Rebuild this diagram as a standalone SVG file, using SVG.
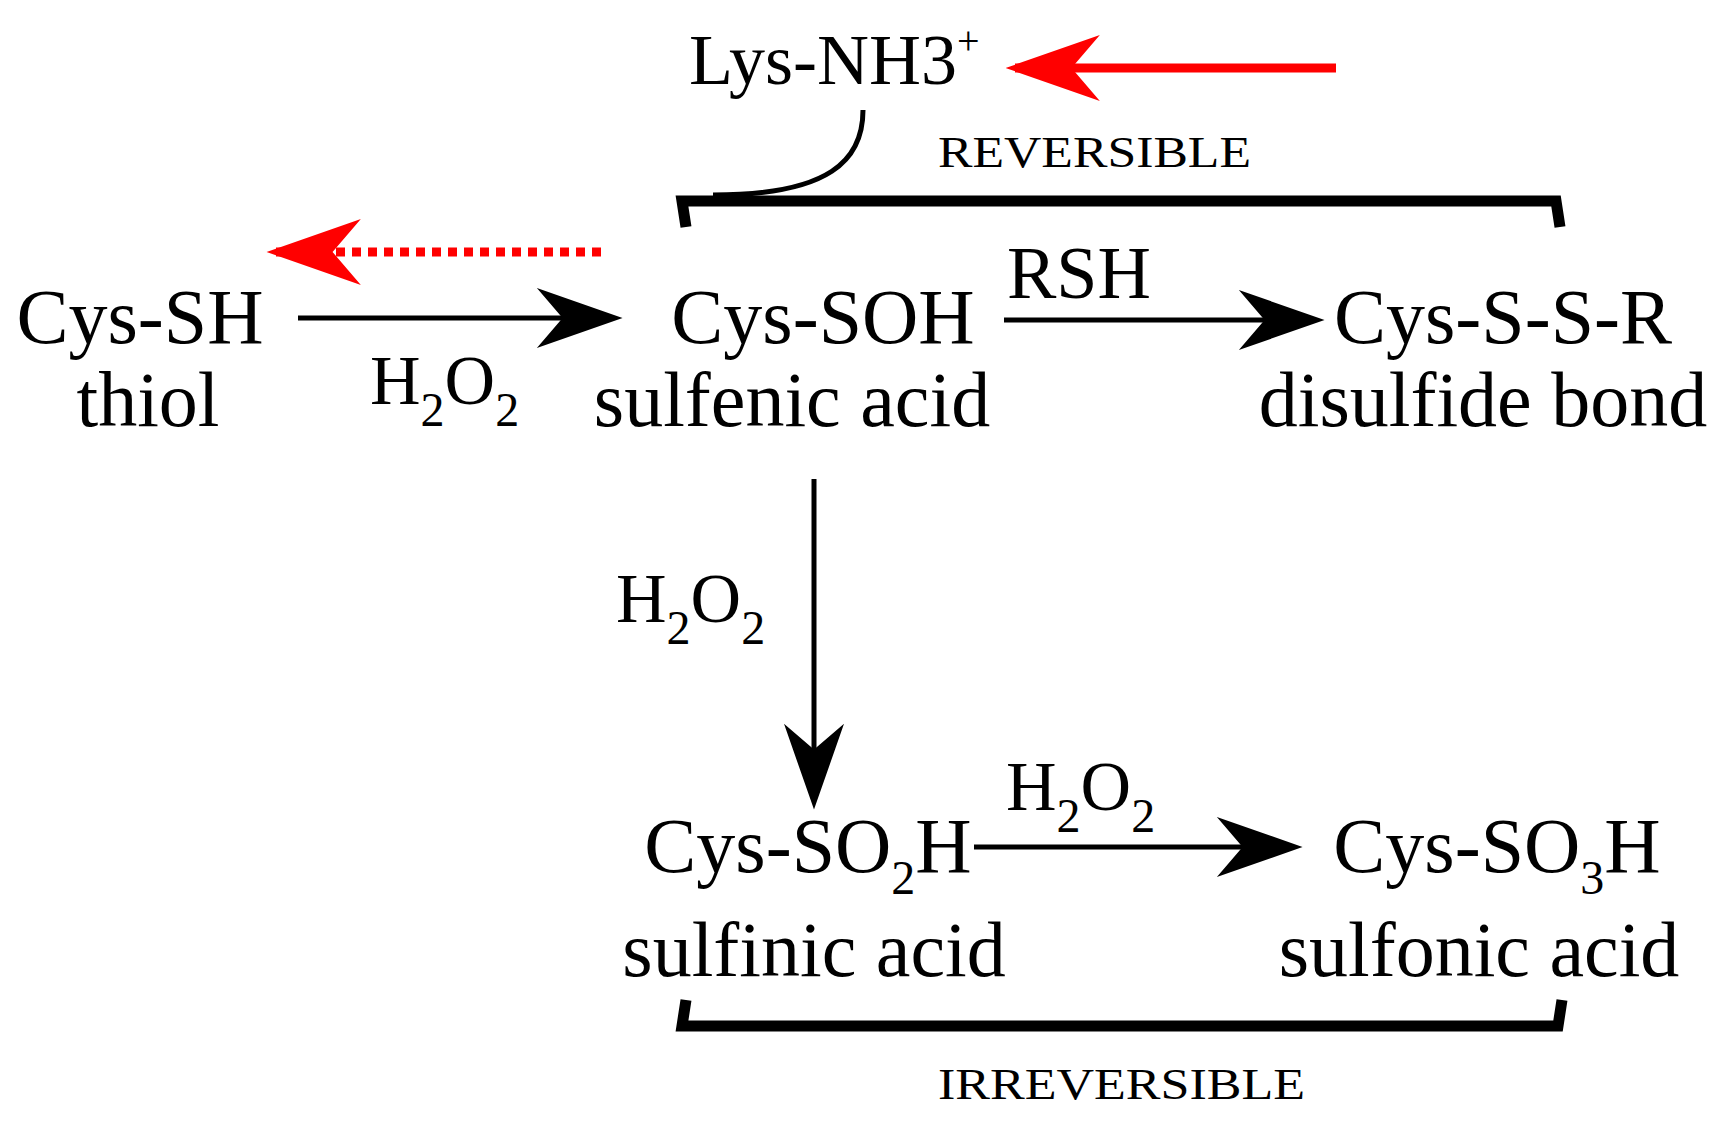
<svg xmlns="http://www.w3.org/2000/svg" width="1720" height="1129" viewBox="0 0 1720 1129">
<style>
text{font-family:"Liberation Serif","Times New Roman",serif;fill:#000}
.m{font-size:78px;text-anchor:middle}
.s{font-size:48px}
.lab{font-size:44px}
.c{stroke:#000;stroke-width:5;fill:none}
</style>
<defs>
<marker id="ahb" viewBox="0 0 20 14" refX="18" refY="7" markerWidth="88" markerHeight="60" markerUnits="userSpaceOnUse" orient="auto"><path d="M0,0 L20,7 L0,14 L6,7 Z" fill="#000"/></marker>
<marker id="ahr" viewBox="0 0 20 14" refX="18" refY="7" markerWidth="96" markerHeight="66" markerUnits="userSpaceOnUse" orient="auto"><path d="M0,0 L20,7 L0,14 L6,7 Z" fill="#f00"/></marker>
</defs>
<rect width="1720" height="1129" fill="#fff"/>
<g id="lys"><text x="689" y="84" font-size="72">Lys-NH3<tspan font-size="40" dy="-30">+</tspan></text></g>
<g id="cysSH"><text class="m" x="140" y="343">Cys-SH</text><text class="m" x="148" y="426">thiol</text></g>
<g id="cysSOH"><text class="m" x="823" y="343">Cys-SOH</text><text class="m" x="792" y="426">sulfenic acid</text></g>
<g id="cysSSR"><text class="m" x="1503" y="343">Cys-S-S-R</text><text class="m" x="1483" y="426">disulfide bond</text></g>
<g id="cysSO2H"><text class="m" x="808" y="872">Cys-SO<tspan class="s" dy="22">2</tspan><tspan dy="-22">H</tspan></text><text class="m" x="814" y="976">sulfinic acid</text></g>
<g id="cysSO3H"><text class="m" x="1497" y="872">Cys-SO<tspan class="s" dy="22">3</tspan><tspan dy="-22">H</tspan></text><text class="m" x="1479" y="976">sulfonic acid</text></g>
<g id="labels">
<text x="938" y="167" class="lab" textLength="313" lengthAdjust="spacingAndGlyphs">REVERSIBLE</text>
<text x="938" y="1099" class="lab" textLength="367" lengthAdjust="spacingAndGlyphs">IRREVERSIBLE</text>
<text x="370" y="404" font-size="70">H<tspan class="s" dy="22">2</tspan><tspan dy="-22">O</tspan><tspan class="s" dy="22">2</tspan></text>
<text x="616" y="622" font-size="70">H<tspan class="s" dy="22">2</tspan><tspan dy="-22">O</tspan><tspan class="s" dy="22">2</tspan></text>
<text x="1006" y="810" font-size="70">H<tspan class="s" dy="22">2</tspan><tspan dy="-22">O</tspan><tspan class="s" dy="22">2</tspan></text>
<text x="1007" y="298" font-size="74">RSH</text>
</g>
<g id="connectors">
<line x1="298" y1="318" x2="614" y2="318" class="c" stroke-width="7" marker-end="url(#ahb)"/>
<line x1="1004" y1="320" x2="1316" y2="320" class="c" stroke-width="7" marker-end="url(#ahb)"/>
<line x1="814" y1="479" x2="814" y2="801" class="c" stroke-width="5" marker-end="url(#ahb)"/>
<line x1="974" y1="847" x2="1294" y2="847" class="c" stroke-width="5" marker-end="url(#ahb)"/>
<line x1="1336" y1="68" x2="1015" y2="68" stroke="#f00" stroke-width="9" marker-end="url(#ahr)"/>
<line x1="601" y1="252" x2="276" y2="252" stroke="#f00" stroke-width="9" stroke-dasharray="9,7" marker-end="url(#ahr)"/>
<path d="M863,110 C863,160 830,195 713,195" class="c" stroke-width="3"/>
<path d="M686,227 L682,201 L1556,201 L1560,227" fill="none" stroke="#000" stroke-width="11"/>
<path d="M686,1000 L682,1026 L1558,1026 L1562,1000" fill="none" stroke="#000" stroke-width="11"/>
</g>
</svg>
